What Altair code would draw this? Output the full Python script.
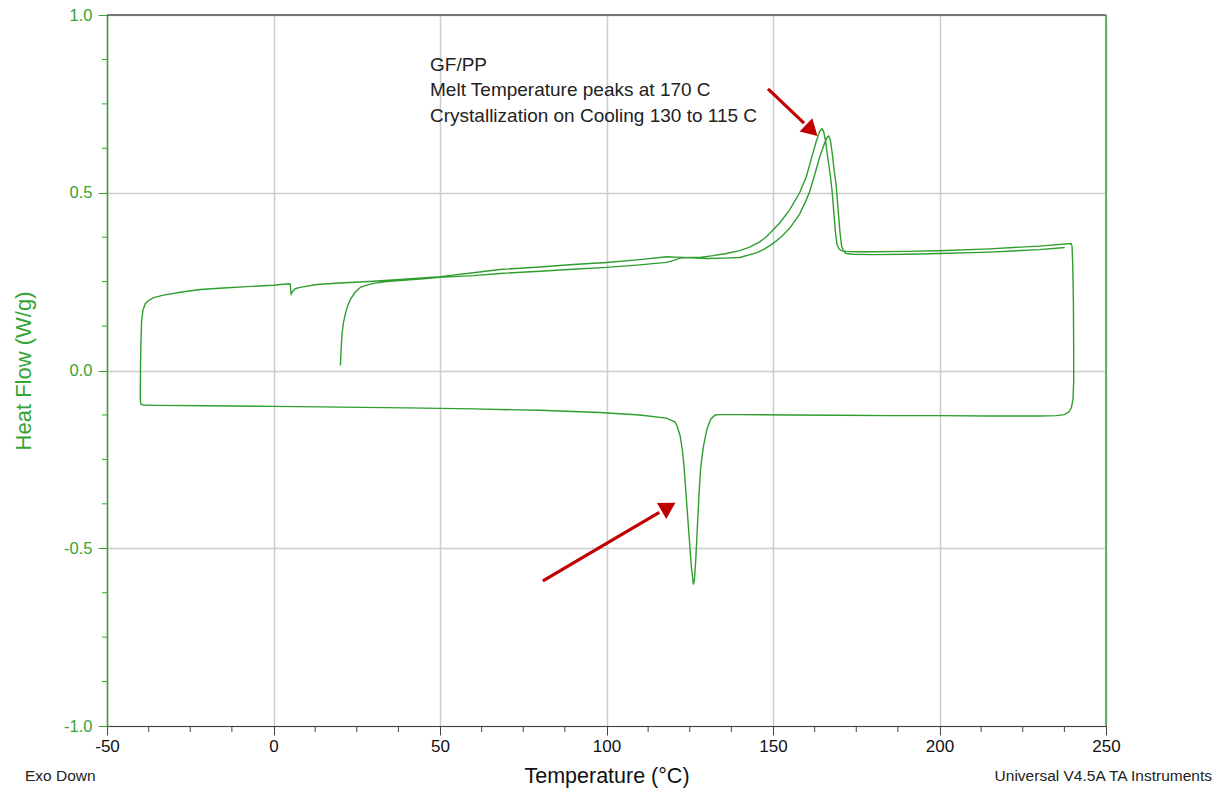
import altair as alt
import pandas as pd
import math

# ---------------- data ----------------
# first heating run, starting at ~20 C
heat1_T = [20.1, 20.3, 20.6, 21.0, 21.6, 22.3, 23.1, 24.5, 26.1, 28, 30, 34, 38, 45, 50, 60, 68, 80, 90, 100,
           110, 118, 120, 122, 125, 128, 132, 136, 140, 143, 146, 148, 150, 152, 155, 158, 160, 162, 163, 164,
           164.7, 165.2, 165.8, 166.5, 167.2, 167.8, 168.3, 168.8, 169.2, 169.8, 170.5, 172, 175, 180, 190, 200,
           215, 230, 239.5]
heat1_HF = [0.014, 0.06, 0.104, 0.135, 0.16, 0.183, 0.2, 0.22, 0.234, 0.24, 0.245, 0.25, 0.253, 0.258, 0.262,
            0.267, 0.273, 0.279, 0.285, 0.29, 0.297, 0.304, 0.309, 0.316, 0.318, 0.318, 0.323, 0.329, 0.337,
            0.347, 0.362, 0.376, 0.395, 0.415, 0.452, 0.5, 0.545, 0.612, 0.645, 0.672, 0.68, 0.673, 0.645, 0.595,
            0.55, 0.5, 0.44, 0.385, 0.355, 0.342, 0.337, 0.335, 0.334, 0.334, 0.335, 0.337, 0.342, 0.35, 0.357]

# cooling run, 240 C down to -40 C
cool_T = [239.8, 240.0, 240.2, 240.3, 240.3, 240.1, 239.6, 238.8, 237.5, 235, 230, 215, 200, 185, 170, 155, 140,
          134, 132.6, 131.3, 130.1, 129.1, 128.3, 127.8, 127.3, 126.8, 126.4, 126.1, 125.5, 124.9, 124.3, 123.8,
          123.3, 122.8, 122.1, 121.3, 120.6, 118, 110, 98, 80, 60, 40, 20, 0, -20, -35, -39, -39.8, -40.0]
cool_HF = [0.35, 0.30, 0.2, 0.05, -0.03, -0.08, -0.105, -0.117, -0.124, -0.127, -0.128, -0.128, -0.127, -0.127,
           -0.126, -0.125, -0.124, -0.124, -0.125, -0.137, -0.167, -0.214, -0.271, -0.345, -0.439, -0.533,
           -0.589, -0.602, -0.553, -0.478, -0.402, -0.337, -0.272, -0.225, -0.183, -0.159, -0.145, -0.134,
           -0.125, -0.118, -0.112, -0.108, -0.105, -0.103, -0.101, -0.099, -0.098, -0.097, -0.095, -0.085]

# second heating run, -40 C up to ~238 C
heat2_T = [-40.0, -39.95, -39.85, -39.6, -39.2, -38.5, -37.5, -36, -33, -28, -22, -15, -8, 0, 4.5, 5.0, 5.3,
           5.7, 6.5, 8, 13, 20, 30, 38, 50, 60, 68, 80, 90, 100, 110, 118, 121, 125, 130, 135, 140, 145, 147.5,
           150, 152.5, 155, 158, 160, 161, 162.5, 164, 165.5, 166.2, 166.7, 167.2, 167.8, 168.4, 168.9, 169.5,
           170.1, 170.6, 171.2, 172, 174, 180, 190, 200, 215, 230, 237.6]
heat2_HF = [-0.06, 0.0, 0.065, 0.14, 0.17, 0.188, 0.197, 0.205, 0.212, 0.22, 0.228, 0.232, 0.236, 0.24, 0.244,
            0.243, 0.215, 0.222, 0.23, 0.234, 0.242, 0.246, 0.251, 0.256, 0.264, 0.275, 0.284, 0.291, 0.298,
            0.304, 0.312, 0.32, 0.319, 0.317, 0.315, 0.316, 0.318, 0.331, 0.342, 0.357, 0.376, 0.40, 0.44, 0.48,
            0.503, 0.55, 0.6, 0.64, 0.655, 0.66, 0.65, 0.61, 0.56, 0.527, 0.46, 0.39, 0.35, 0.335, 0.329, 0.327,
            0.326, 0.327, 0.329, 0.333, 0.34, 0.346]

# annotation text
note_lines = ["GF/PP", "Melt Temperature peaks at 170 C", "Crystallization on Cooling 130 to 115 C"]
note_T = [47.0, 47.0, 47.0]
note_HF = [0.859, 0.789, 0.716]

# arrows (start -> tip), in data units
arrow_T0 = [148.5, 80.9]
arrow_HF0 = [0.792, -0.592]
arrow_T1 = [162.8, 120.0]
arrow_HF1 = [0.665, -0.376]

x_major = [-50, 0, 50, 100, 150, 200, 250]
y_major = [-1.0, -0.5, 0.0, 0.5, 1.0]
x_minor = [v for v in [-50 + 12.5 * k for k in range(25)] if v % 50 != 0]
y_minor = [v for v in [-1 + 0.125 * k for k in range(17)] if v % 0.5 != 0]

# ---------------- build tables ----------------
rows = []
i = 0
for Ts, Hs in [(heat1_T, heat1_HF), (cool_T, cool_HF), (heat2_T, heat2_HF)]:
    assert len(Ts) == len(Hs)
    for t, h in zip(Ts, Hs):
        rows.append({"T": t, "HF": h, "i": i})
        i += 1
df = pd.DataFrame(rows)

W, H = 999, 711
XD, YD = [-50, 250], [-1, 1]
sx = W / (XD[1] - XD[0])
sy = H / (YD[1] - YD[0])
HEAD_H = 8.0  # half height of arrow head triangle in px

arows = []
for t0, h0, t1, h1 in zip(arrow_T0, arrow_HF0, arrow_T1, arrow_HF1):
    dx = (t1 - t0) * sx
    dy = -(h1 - h0) * sy
    L = math.hypot(dx, dy)
    ux, uy = dx / L, dy / L
    ang = math.degrees(math.atan2(dx, -dy)) % 360
    ct = t1 - ux * HEAD_H / sx
    ch = h1 + uy * HEAD_H / sy
    et = t1 - ux * 2 * HEAD_H / sx
    eh = h1 + uy * 2 * HEAD_H / sy
    arows.append({"T": t0, "HF": h0, "T2": et, "HF2": eh, "cT": ct, "cHF": ch, "ang": ang})
adf = pd.DataFrame(arows)
hdf = pd.DataFrame({"T": adf["cT"], "HF": adf["cHF"], "ang": adf["ang"]})
ndf = pd.DataFrame({"T": note_T, "HF": note_HF, "txt": note_lines})
xmdf = pd.DataFrame({"T": x_minor})
ymdf = pd.DataFrame({"HF": y_minor})

GREEN = "#2f9e2f"
AXGREEN = "#34a534"
RED = "#c00000"
FONT = "Liberation Sans"

xscale = alt.Scale(domain=XD, nice=False, zero=False)
yscale = alt.Scale(domain=YD, nice=False, zero=False)

xaxis = alt.Axis(
    values=x_major,
    labelExpr="datum.value < 0 ? '-' + format(-datum.value, 'd') : format(datum.value, 'd')",
    labelOverlap=False, labelFlush=False,
    tickSize=9, grid=True, gridColor="#cccccc", gridWidth=1.5,
    domainColor="#444444", domainWidth=1.2, tickColor="#444444", tickWidth=1,
    labelColor="#111111", labelFontSize=17, labelFont=FONT, labelPadding=3,
    title="Temperature (°C)", titleFont=FONT, titleFontSize=21.5, titleFontWeight="normal",
    titleColor="#111111", titlePadding=11,
)
yaxis = alt.Axis(
    values=y_major,
    labelExpr="datum.value < 0 ? '-' + format(-datum.value, '.1f') : format(datum.value, '.1f')",
    labelOverlap=False, labelFlush=False,
    tickSize=9, grid=True, gridColor="#cccccc", gridWidth=1.5,
    domainColor=AXGREEN, domainWidth=1.5, tickColor=AXGREEN, tickWidth=1,
    labelColor=AXGREEN, labelFontSize=16.5, labelFont=FONT, labelPadding=6,
    title="Heat Flow (W/g)", titleFont=FONT, titleFontSize=22, titleFontWeight="normal",
    titleColor=AXGREEN, titlePadding=28,
)

X = alt.X("T:Q", scale=xscale, axis=xaxis)
Y = alt.Y("HF:Q", scale=yscale, axis=yaxis)

line = alt.Chart(df).mark_line(color=GREEN, strokeWidth=1.4, clip=True).encode(
    x=X, y=Y, order="i:Q")

arrow_shaft = alt.Chart(adf).mark_rule(color=RED, strokeWidth=3.2).encode(
    x=X, y=Y, x2="T2:Q", y2="HF2:Q")
arrow_head = alt.Chart(hdf).mark_point(shape="triangle", filled=True, color=RED, opacity=1, size=340).encode(
    x=X, y=Y, angle=alt.Angle("ang:Q", scale=None))

notes = alt.Chart(ndf).mark_text(align="left", baseline="middle", font=FONT, fontSize=19,
                                 color="#222222").encode(x=X, y=Y, text="txt:N")

x_minor_ticks = alt.Chart(xmdf).mark_rule(color="#444444", strokeWidth=1).encode(
    x=X, y=alt.value(H), y2=alt.value(H + 6))
y_minor_ticks = alt.Chart(ymdf).mark_rule(color=AXGREEN, strokeWidth=1).encode(
    y=Y, x=alt.value(-5), x2=alt.value(0))

one = pd.DataFrame({"k": [0]})
top_border = alt.Chart(one).mark_rule(color="#555555", strokeWidth=1.5).encode(
    x=alt.value(0), x2=alt.value(W), y=alt.value(0))
right_border = alt.Chart(one).mark_rule(color=AXGREEN, strokeWidth=1.5).encode(
    x=alt.value(W), y=alt.value(0), y2=alt.value(H))
exo = alt.Chart(one).mark_text(text="Exo Down", align="left", baseline="middle", font=FONT, fontSize=15.5,
                               color="#222222").encode(x=alt.value(-82), y=alt.value(761))
univ = alt.Chart(one).mark_text(text="Universal V4.5A TA Instruments", align="right", baseline="middle",
                                font=FONT, fontSize=15.5, color="#222222").encode(x=alt.value(1105), y=alt.value(761))

chart = alt.layer(line, x_minor_ticks, y_minor_ticks, arrow_shaft, arrow_head, notes,
                  top_border, right_border, exo, univ).properties(
    width=W, height=H,
    padding={"left": 99, "top": 7, "right": 107, "bottom": 64},
    autosize=alt.AutoSizeParams(type="none"),
    background="white",
).configure_view(stroke=None)

chart.save("out.html", embed_options={"renderer": "svg", "actions": False})
